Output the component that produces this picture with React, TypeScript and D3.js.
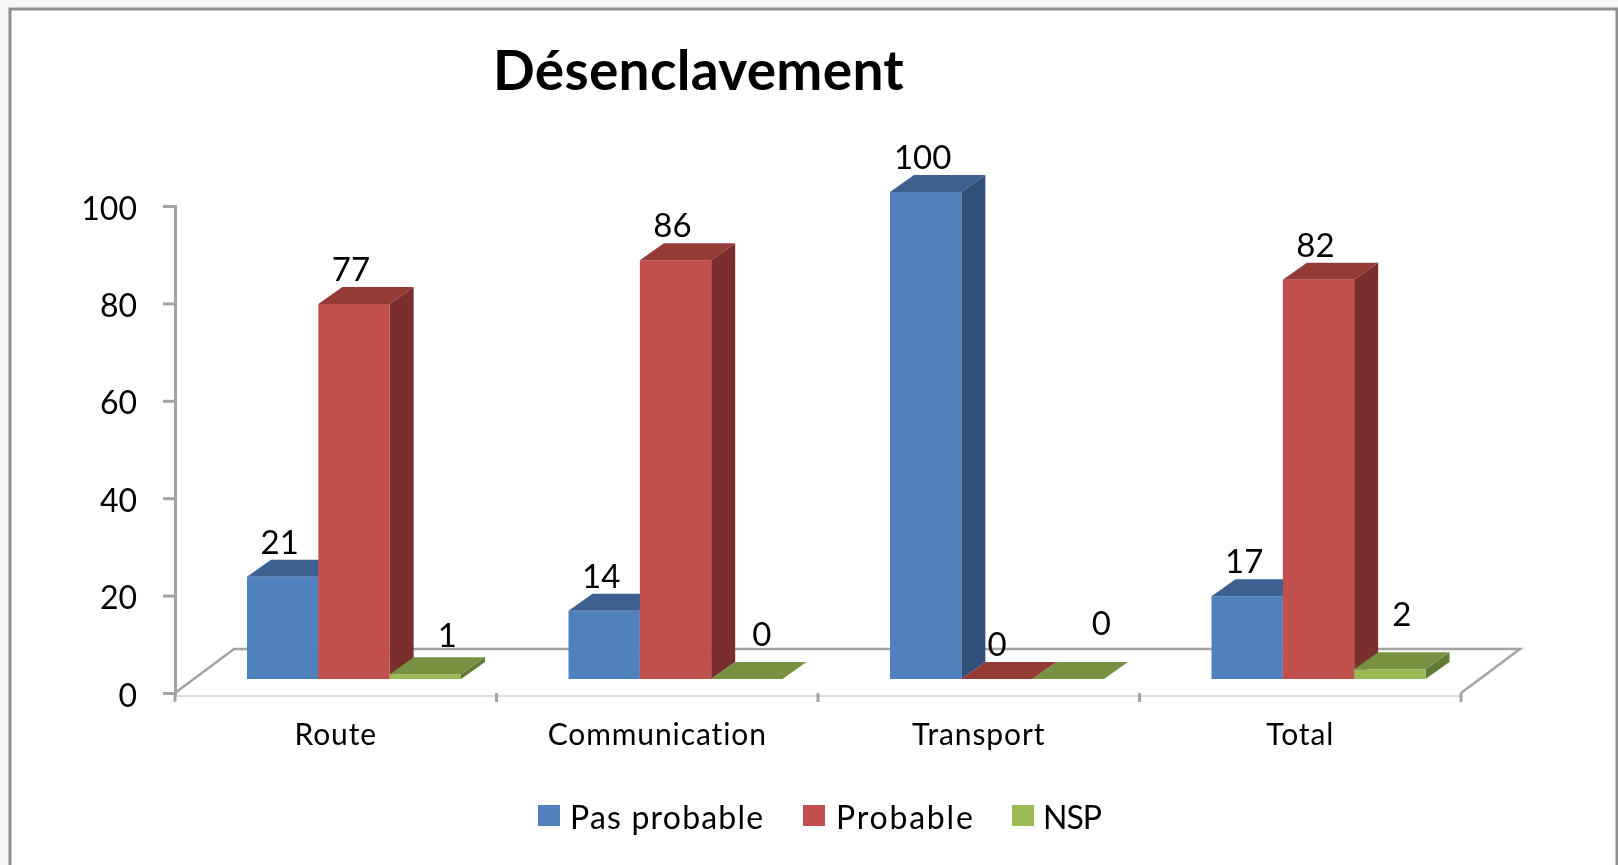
import React, {useEffect, useRef} from 'react';
import * as d3 from 'd3';

const title = 'Désenclavement';
const categories = ['Route', 'Communication', 'Transport', 'Total'];
const seriesNames = ['Pas probable', 'Probable', 'NSP'];
const pasProbable = [21, 14, 100, 17];
const probable = [77, 86, 0, 82];
const nsp = [1, 0, 0, 2];
const yTicks = [0, 20, 40, 60, 80, 100];

const allSeries = [pasProbable, probable, nsp];
const faceColors = ['#4f81bd', '#c0504d', '#9bbb59'];
const topColors = ['#3c6190', '#943a38', '#77913f'];
const sideColors = ['#30507a', '#7a2f2d', '#5f7a33'];

// excel moved the small NSP labels by hand, [dx, dy]
const nspNudge = [[22, -3], [15, -9], [33, -20], [12, -19]];

const FONT = 'Lato, Carlito, sans-serif';

const App = () => {
  const svgRef = useRef<SVGSVGElement>(null);

  useEffect(() => {
    const svg = d3.select(svgRef.current);
    svg.selectAll('*').remove();

    const axisX0 = 175;
    const axisX1 = 1461;
    const axisY0 = 693;
    const axisY1 = 206;
    const floorDx = 59;
    const floorDy = 44;
    const barLift = 14;
    const depthX = 24;
    const depthY = 17;
    const gray = '#a3a3a3';

    const x0 = d3.scaleBand().domain(categories).range([axisX0, axisX1]);
    const x1 = d3.scaleBand().domain(seriesNames).range([72, 286]);
    const y = d3.scaleLinear().domain([0, 100]).range([axisY0, axisY1]);

    const defs = svg.append('defs');
    defs
      .append('filter')
      .attr('id', 'soft')
      .append('feGaussianBlur')
      .attr('stdDeviation', 0.6);

    svg.append('rect').attr('width', 1618).attr('height', 865).attr('fill', '#f6f6f6');
    svg
      .append('rect')
      .attr('x', 10)
      .attr('y', 9)
      .attr('width', 1607)
      .attr('height', 870)
      .attr('fill', '#fff')
      .attr('stroke', '#8e8e8e')
      .attr('stroke-width', 3);

    const chart = svg.append('g').attr('filter', 'url(#soft)');

    // floor
    chart
      .append('path')
      .attr(
        'd',
        d3.line()([
          [axisX0, axisY0],
          [axisX0 + floorDx, axisY0 - floorDy],
          [axisX1 + floorDx, axisY0 - floorDy],
          [axisX1, axisY0],
        ]),
      )
      .attr('fill', '#fff')
      .attr('stroke', gray)
      .attr('stroke-width', 2.5);
    chart
      .append('line')
      .attr('x1', axisX0)
      .attr('x2', axisX1)
      .attr('y1', axisY0 + 3)
      .attr('y2', axisY0 + 3)
      .attr('stroke', '#dcdcdc')
      .attr('stroke-width', 2);

    // y axis
    const yAxis = chart
      .append('g')
      .attr('transform', `translate(${axisX0},0)`)
      .call(d3.axisLeft(y).tickValues(yTicks).tickSize(12).tickPadding(26).tickFormat(d3.format('d')));
    yAxis.select('.domain').attr('stroke', gray).attr('stroke-width', 3);
    yAxis.selectAll('.tick line').attr('stroke', gray).attr('stroke-width', 3);
    yAxis
      .selectAll('.tick text')
      .attr('dy', 13)
      .attr('fill', '#000')
      .attr('font-family', FONT)
      .attr('font-size', 32);

    // x axis, ticks sit between the categories
    const xAxis = chart
      .append('g')
      .attr('transform', `translate(0,${axisY0})`)
      .call(d3.axisBottom(x0).tickSize(0).tickPadding(31));
    xAxis.select('.domain').remove();
    xAxis
      .selectAll('.tick text')
      .attr('fill', '#000')
      .attr('font-family', FONT)
      .attr('font-size', 30)
      .attr('letter-spacing', 0.9);
    chart
      .selectAll('.x-tick')
      .data([...categories.map(c => x0(c)), axisX1])
      .enter()
      .append('line')
      .attr('class', 'x-tick')
      .attr('x1', d => d)
      .attr('x2', d => d)
      .attr('y1', axisY0)
      .attr('y2', axisY0 + 9)
      .attr('stroke', gray)
      .attr('stroke-width', 3);

    // bars, left to right so the neighbour covers the hidden side
    categories.forEach((cat, c) => {
      allSeries.forEach((values, s) => {
        const v = values[c];
        const left = x0(cat) + x1(seriesNames[s]);
        const right = left + x1.bandwidth();
        const base = y(0) - barLift;
        const top = y(v) - barLift;
        const g = chart.append('g');
        g.append('path')
          .attr(
            'd',
            d3.line()([
              [right, top],
              [right + depthX, top - depthY],
              [right + depthX, base - depthY],
              [right, base],
            ]),
          )
          .attr('fill', sideColors[s]);
        g.append('path')
          .attr(
            'd',
            d3.line()([
              [left, top],
              [left + depthX, top - depthY],
              [right + depthX, top - depthY],
              [right, top],
            ]),
          )
          .attr('fill', topColors[s]);
        g.append('rect')
          .attr('x', left)
          .attr('y', top)
          .attr('width', right - left)
          .attr('height', base - top)
          .attr('fill', faceColors[s]);
      });
    });

    // labels after the bars
    categories.forEach((cat, c) => {
      allSeries.forEach((values, s) => {
        const v = values[c];
        const nudge = s === 2 ? nspNudge[c] : [v === 0 ? 0 : -3, 1];
        chart
          .append('text')
          .attr('x', x0(cat) + x1(seriesNames[s]) + x1.bandwidth() / 2 + nudge[0])
          .attr('y', y(v) - barLift - depthY - 7 + nudge[1])
          .attr('text-anchor', 'middle')
          .attr('font-family', FONT)
          .attr('font-size', 33)
          .text(v);
      });
    });

    chart
      .append('text')
      .attr('x', 493)
      .attr('y', 90)
      .attr('font-family', FONT)
      .attr('font-weight', 700)
      .attr('font-size', 55)
      .attr('letter-spacing', 0.3)
      .text(title);

    // legend
    const legendX = [538, 803, 1012];
    const legendSpacing = [1.2, 1.8, -1];
    const legendTextX = [32, 33, 31];
    const legend = chart
      .selectAll('.legend')
      .data(seriesNames)
      .enter()
      .append('g')
      .attr('class', 'legend')
      .attr('transform', (d, i) => `translate(${legendX[i]},805)`);
    legend
      .append('rect')
      .attr('width', 22)
      .attr('height', 21)
      .attr('fill', (d, i) => faceColors[i]);
    legend
      .append('text')
      .attr('x', (d, i) => legendTextX[i])
      .attr('y', 24)
      .attr('font-family', FONT)
      .attr('font-size', 32)
      .attr('letter-spacing', (d, i) => legendSpacing[i])
      .text(d => d);
  }, []);

  return (
    <svg
      ref={svgRef}
      width={1618}
      height={865}
      style={{position: 'absolute', left: 0, top: 0}}
    ></svg>
  );
};

export default App;
